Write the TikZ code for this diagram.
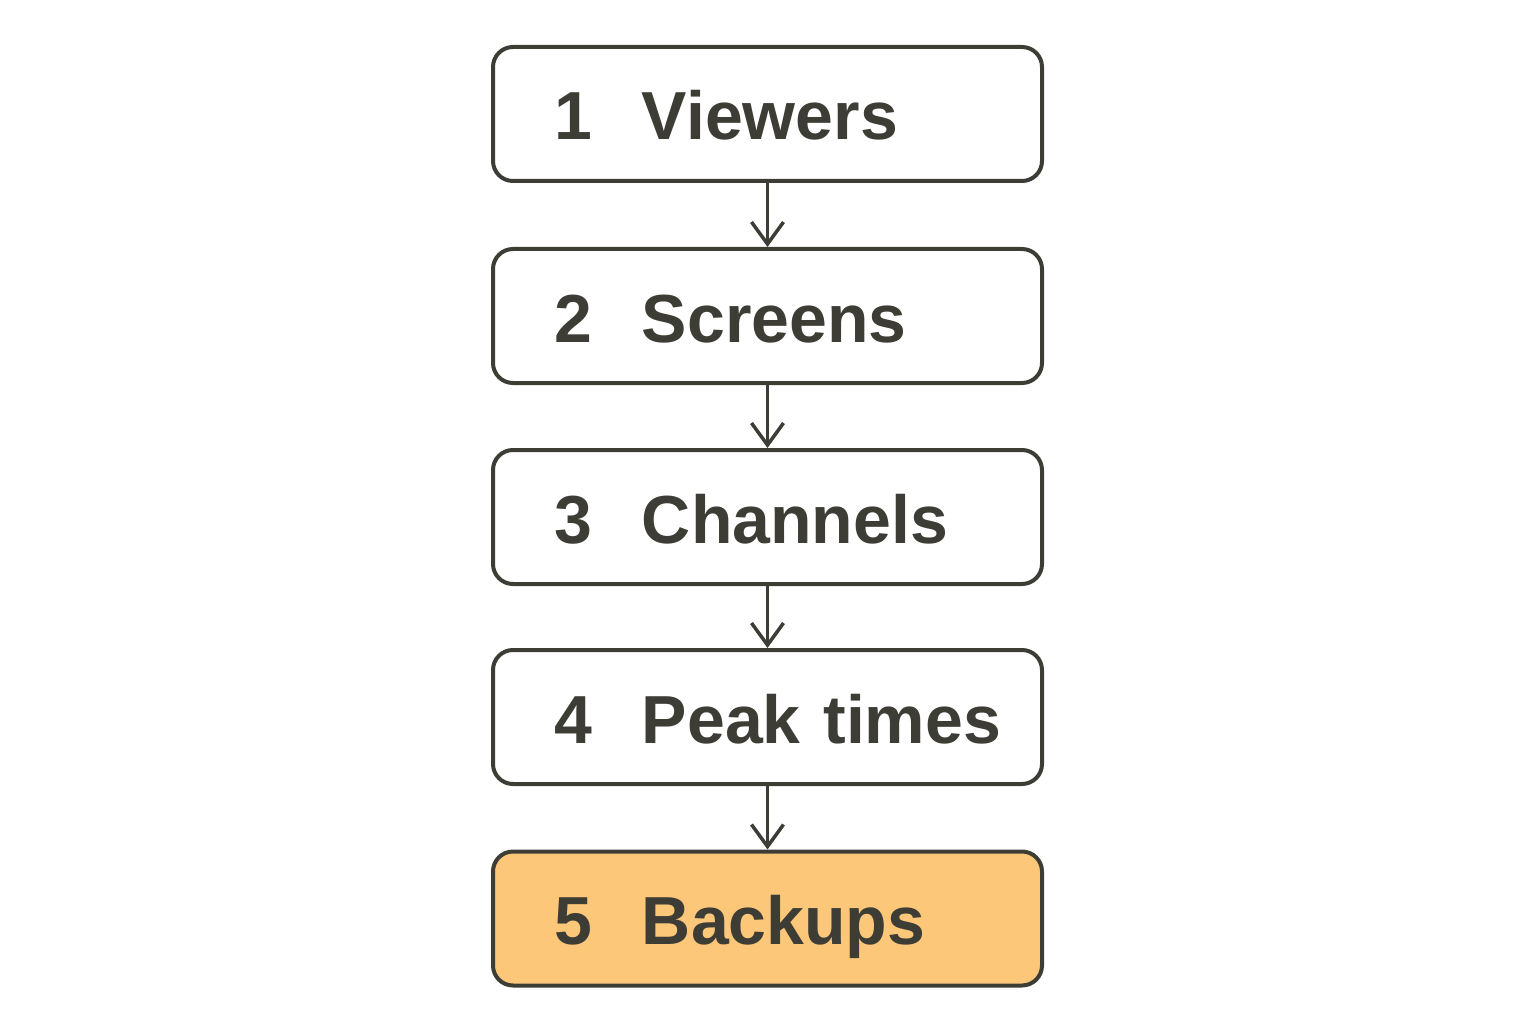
\documentclass[tikz,border=0pt]{standalone}
\usepackage{fontspec}
\setmainfont{Liberation Sans}
\usetikzlibrary{arrows.meta}
\definecolor{ink}{HTML}{3D3D36}
\definecolor{orangefill}{HTML}{FDC77A}
\begin{document}
\begin{tikzpicture}[x=1pt,y=-1pt,
  stepbox/.style={draw=ink, line width=4pt, rounded corners=20pt, fill=white,
    minimum width=549pt, minimum height=134pt, inner xsep=61pt, inner ysep=0pt,
    text width=427pt, align=left, text height=52pt, text depth=0pt,
    font=\fontsize{68}{80}\selectfont\bfseries, text=ink},
  conn/.style={draw=ink, line width=3pt, -{Straight Barb[length=22pt,width=32pt,line width=3.5pt]}}]
\useasboundingbox (0,0) rectangle (1536,1024);
\node[stepbox] (b1) at (767.5,114) {\mbox{\makebox[88pt][l]{1}Viewers}};
\node[stepbox] (b2) at (767.5,316) {\mbox{\makebox[88pt][l]{2}Screens}};
\node[stepbox] (b3) at (767.5,517) {\mbox{\makebox[88pt][l]{3}Channels}};
\node[stepbox] (b4) at (767.5,717) {\mbox{\makebox[88pt][l]{4}Peak times}};
\node[stepbox, fill=orangefill] (b5) at (767.5,918.5) {\mbox{\makebox[88pt][l]{5}Backups}};
\draw[conn] (b1.south) -- (b2.north);
\draw[conn] (b2.south) -- (b3.north);
\draw[conn] (b3.south) -- (b4.north);
\draw[conn] (b4.south) -- (b5.north);
\end{tikzpicture}
\end{document}
